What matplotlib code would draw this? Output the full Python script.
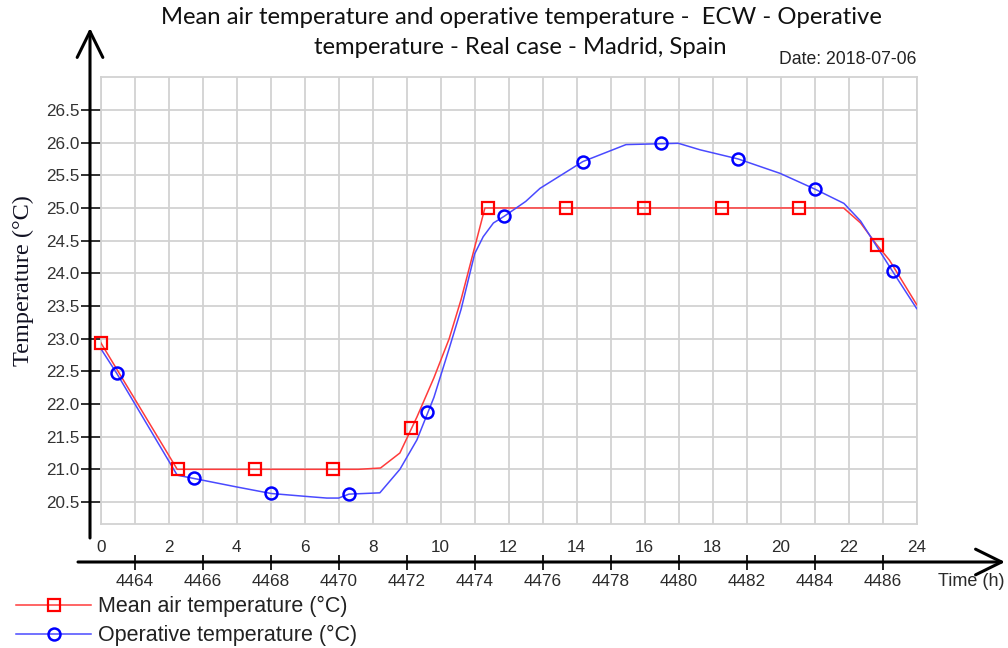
import numpy as np
import matplotlib
matplotlib.use("Agg")
import matplotlib.pyplot as plt
from matplotlib.ticker import MultipleLocator
from matplotlib.lines import Line2D

# Hourly profile for 2018-07-06 (hour of day 0-24)
air_hours = [0.0, 2.25, 7.58, 8.23, 8.8, 9.3, 9.8, 10.25, 10.6, 11.0, 11.3,
             21.85, 22.35, 22.82, 23.2, 24.0]
air_temp = [22.94, 21.0, 21.0, 21.02, 21.25, 21.8, 22.4, 23.0, 23.6, 24.4, 25.0,
            25.0, 24.77, 24.44, 24.2, 23.52]

op_hours = [0.0, 0.47, 2.25, 2.74, 4.0, 5.01, 6.16, 6.65, 7.0, 7.3, 8.21, 8.8,
            9.3, 9.8, 10.25, 10.6, 11.0, 11.25, 11.55, 11.86, 12.5, 12.92,
            14.18, 15.45, 16.99, 17.63, 18.75, 19.98, 21.0, 21.86, 22.35,
            23.29, 24.0]
op_temp = [22.85, 22.47, 20.91, 20.86, 20.73, 20.63, 20.58, 20.56, 20.56, 20.62,
           20.64, 21.0, 21.45, 22.1, 22.85, 23.45, 24.3, 24.56, 24.77, 24.87,
           25.1, 25.3, 25.71, 25.97, 25.99, 25.89, 25.75, 25.53, 25.29, 25.07,
           24.8, 24.03, 23.46]

# Marker samples along each curve
air_mark_hours = [0.0, 2.26, 4.55, 6.84, 9.12, 11.4, 13.69, 15.98, 18.26, 20.55, 22.83]
air_mark_temp = [22.94, 21.01, 21.0, 21.0, 21.63, 25.0, 25.0, 25.0, 25.0, 25.0, 24.44]
op_mark_hours = [0.47, 2.74, 5.01, 7.30, 9.59, 11.86, 14.18, 16.47, 18.75, 21.0, 23.29]
op_mark_temp = [22.47, 20.86, 20.63, 20.62, 21.88, 24.87, 25.71, 25.99, 25.75, 25.29, 24.03]

hour_ticks = list(range(0, 25, 2))
year_hour_ticks = list(range(4464, 4487, 2))
temp_ticks = [20.5, 21.0, 21.5, 22.0, 22.5, 23.0, 23.5, 24.0, 24.5, 25.0, 25.5, 26.0, 26.5]
first_hour_of_day = 4463

title_lines = ["Mean air temperature and operative temperature -  ECW - Operative",
               "temperature - Real case - Madrid, Spain"]
date_label = "Date: 2018-07-06"
y_label = "Temperature (°C)"
x_label = "Time (h)"
air_label = "Mean air temperature (°C)"
op_label = "Operative temperature (°C)"

W, H = 1008, 648
fig = plt.figure(figsize=(W / 100, H / 100), dpi=100)
ax_l, ax_r, ax_t, ax_b = 100.7, 916.7, 77.3, 524.0
ax = fig.add_axes([ax_l / W, 1 - ax_b / H, (ax_r - ax_l) / W, (ax_b - ax_t) / H])
ax_w, ax_h = ax_r - ax_l, ax_b - ax_t

grid_col = "#d2d2d2"
ax.set_xlim(0, 24)
ax.set_ylim(20.163, 27.0)
ax.xaxis.set_minor_locator(MultipleLocator(1))
ax.set_xticks(hour_ticks)
ax.set_xticklabels([str(h) for h in hour_ticks])
ax.set_yticks(temp_ticks)
ax.set_yticklabels([f"{t:.1f}" for t in temp_ticks])
ax.grid(which="both", color=grid_col, linewidth=1.3)
ax.set_axisbelow(True)
for s in ax.spines.values():
    s.set_color(grid_col)
    s.set_linewidth(1.3)

ax.tick_params(axis="x", which="both", length=0, pad=11.5, labelsize=12.3, labelcolor="#2a2a2a")
ax.tick_params(axis="y", direction="out", length=14.2, width=1.3, color="#222222",
               pad=1, labelsize=12.3, labelcolor="#333333")
for lab in ax.get_xticklabels() + ax.get_yticklabels():
    lab.set_family("Liberation Sans")

# Red: mean air temperature, blue: operative temperature
ax.plot(air_hours, air_temp, color="#ff3b3b", lw=1.1, zorder=3)
ax.plot(air_mark_hours, air_mark_temp, ls="none", marker="s", ms=8.2, mfc="none",
        mec="#ff0000", mew=1.6, zorder=4, clip_on=False)
ax.plot(op_hours, op_temp, color="#4a4aff", lw=1.1, zorder=3)
ax.plot(op_mark_hours, op_mark_temp, ls="none", marker="o", ms=8.6, mfc="none",
        mec="#0000ff", mew=1.8, zorder=4, clip_on=False)

# Secondary axis with hour-of-year labels
axis_y = -(562 - ax_b) / ax_h
sec = ax.secondary_xaxis(axis_y, functions=(lambda h: h + first_hour_of_day,
                                             lambda v: v - first_hour_of_day))
sec.set_xticks(year_hour_ticks)
sec.set_xticklabels([str(v) for v in year_hour_ticks])
sec.tick_params(direction="inout", length=10.8, width=1.3, color="#111111", pad=3,
                labelsize=12.3, labelcolor="#2a2a2a")
for lab in sec.get_xticklabels():
    lab.set_family("Liberation Sans")
sec.spines["bottom"].set_visible(False)

# Axis arrows
arrow_style = dict(arrowstyle="->,head_length=0.85,head_width=0.42",
                   lw=2.2, color="black", mutation_scale=22, shrinkA=0, shrinkB=0)
ax.annotate("", xy=((1005 - ax_l) / ax_w, axis_y), xytext=((78 - ax_l) / ax_w, axis_y),
            xycoords="axes fraction", annotation_clip=False, arrowprops=arrow_style)
ax.annotate("", xy=((90 - ax_l) / ax_w, (ax_b - 28) / ax_h),
            xytext=((90 - ax_l) / ax_w, (ax_b - 538) / ax_h),
            xycoords="axes fraction", annotation_clip=False, arrowprops=arrow_style)

# Texts
fig.text(521 / W, 1 - 17 / H, title_lines[0], ha="center", va="center",
         family="Lato", fontsize=17.2, color="#111111")
fig.text(520 / W, 1 - 47 / H, title_lines[1], ha="center", va="center",
         family="Lato", fontsize=17.2, color="#111111")
fig.text(916 / W, 1 - 60 / H, date_label, ha="right", va="center",
         family="Liberation Sans", fontsize=12.7, color="#222222")
fig.text(23 / W, 1 - 281 / H, y_label, ha="center", va="center", rotation=90,
         family="Liberation Serif", fontsize=17.5, color="#111122")
fig.text(938 / W, 1 - 582 / H, x_label, ha="left", va="center",
         family="Liberation Sans", fontsize=13, color="#2a2a2a")

handles = [Line2D([], [], color="#ff3b3b", lw=1.1, marker="s", ms=8.2, mfc="none",
                  mec="#ff0000", mew=1.6),
           Line2D([], [], color="#4a4aff", lw=1.1, marker="o", ms=8.6, mfc="none",
                  mec="#0000ff", mew=1.8)]
fig.legend(handles, [air_label, op_label], loc="upper left",
           bbox_to_anchor=(16 / W, 1 - 596 / H), frameon=False, borderpad=0,
           borderaxespad=0, handlelength=3.5, handletextpad=0.33, labelspacing=0.38,
           prop=dict(family="Liberation Sans", size=15.5), labelcolor="#222222")

fig.savefig("out.png", dpi=100)
